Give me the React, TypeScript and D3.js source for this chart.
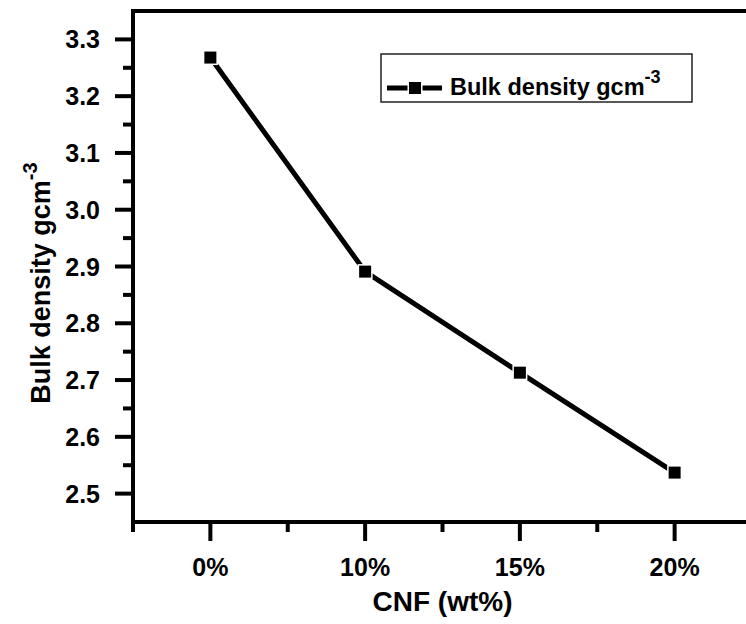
import * as d3 from 'd3'
import React from 'react'

const categories = ['0%', '10%', '15%', '20%']
const bulkDensity = [3.268, 2.891, 2.713, 2.537]
const yMajorTicks = [2.5, 2.6, 2.7, 2.8, 2.9, 3.0, 3.1, 3.2, 3.3]
const yMinorTicks = [2.55, 2.65, 2.75, 2.85, 2.95, 3.05, 3.15, 3.25]
const xMinorTicks = [-0.5, 0.5, 1.5, 2.5, 3.5]

const WIDTH = 746
const HEIGHT = 624
const FONT = "'Liberation Sans', Arial, sans-serif"

const LEFT = 133
const RIGHT = 752
const TOP = 11
const BOTTOM = 522

export default function App() {
  const x = d3.scaleLinear().domain([-0.5, 3.5]).range([LEFT, RIGHT])
  const y = d3.scaleLinear().domain([2.45, 3.35]).range([BOTTOM, TOP])

  const points = bulkDensity.map((v, i) => [x(i), y(v)] as [number, number])
  const line = d3.line()(points)

  const marker = (cx: number, cy: number, key: string) => (
    <rect key={key} x={cx - 6} y={cy - 6} width={12} height={12} fill="#000" stroke="#fff" strokeWidth={3} paintOrder="stroke" />
  )

  return (
    <div style={{ position: 'absolute', left: 0, top: 0 }}>
      <svg width={WIDTH} height={HEIGHT} style={{ display: 'block', background: '#fff' }} fontFamily={FONT} fontWeight="bold">
        {/* frame (right edge falls outside the picture) */}
        <g stroke="#000" strokeWidth={4} fill="none">
          <line x1={LEFT - 2} x2={WIDTH} y1={TOP} y2={TOP} />
          <line x1={LEFT - 2} x2={WIDTH} y1={BOTTOM} y2={BOTTOM} />
          <line x1={LEFT} x2={LEFT} y1={TOP} y2={BOTTOM} />
        </g>

        {/* ticks */}
        <g stroke="#000" strokeWidth={4}>
          {yMajorTicks.map(t => (
            <line key={'ym' + t} x1={LEFT - 18} x2={LEFT} y1={y(t)} y2={y(t)} />
          ))}
          {yMinorTicks.map(t => (
            <line key={'yn' + t} x1={LEFT - 10} x2={LEFT} y1={y(t)} y2={y(t)} />
          ))}
          {categories.map((c, i) => (
            <line key={'xm' + c} x1={x(i)} x2={x(i)} y1={BOTTOM} y2={BOTTOM + 19} />
          ))}
          {xMinorTicks.map(t => (
            <line key={'xn' + t} x1={x(t)} x2={x(t)} y1={BOTTOM} y2={BOTTOM + 10} />
          ))}
        </g>

        <g fontSize={25} fill="#000">
          {yMajorTicks.map(t => (
            <text key={'yl' + t} x={LEFT - 33} y={y(t)} textAnchor="end" dominantBaseline="central">
              {d3.format('.1f')(t)}
            </text>
          ))}
          {categories.map((c, i) => (
            <text key={'xl' + c} x={x(i)} y={576} textAnchor="middle">
              {c}
            </text>
          ))}
        </g>

        {/* axis titles */}
        <text x={(LEFT + RIGHT) / 2} y={611} textAnchor="middle" fontSize={28}>
          CNF (wt%)
        </text>
        <text transform={`translate(50,283) rotate(-90)`} textAnchor="middle" fontSize={27}>
          Bulk density gcm
          <tspan fontSize={20} dy={-13}>-3</tspan>
        </text>

        {/* data */}
        <path d={line ?? ''} fill="none" stroke="#000" strokeWidth={5} />
        {points.map((p, i) => marker(p[0], p[1], 'm' + i))}

        {/* legend */}
        <rect x={381} y={54} width={311} height={48} fill="#fff" stroke="#222" strokeWidth={1.5} />
        <line x1={387} x2={442} y1={88} y2={88} stroke="#000" strokeWidth={5} />
        {marker(415, 88, 'legend')}
        <text x={450} y={95} fontSize={23.5}>
          Bulk density gcm
          <tspan fontSize={18} dy={-12}>-3</tspan>
        </text>
      </svg>
    </div>
  )
}
